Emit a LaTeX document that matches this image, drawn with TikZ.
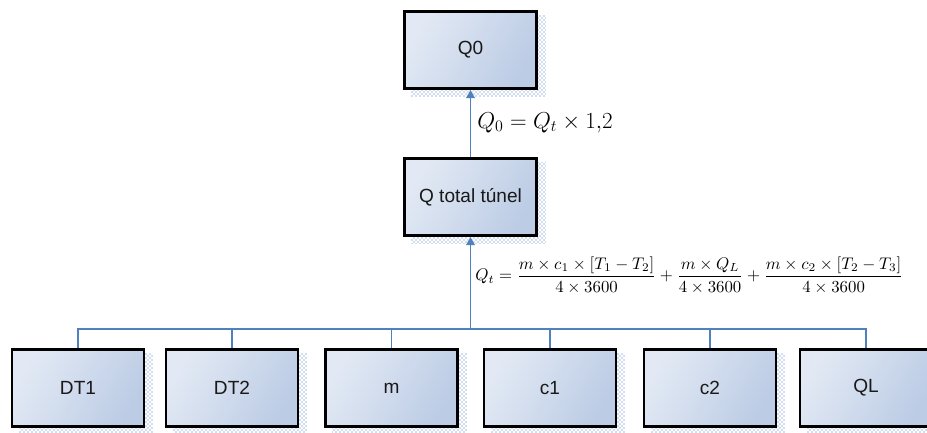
\documentclass[tikz,border=0pt]{standalone}
\usepackage{amsmath}
\usepackage{fontspec}
\setmainfont{Liberation Sans}
\usetikzlibrary{arrows.meta,patterns,calc,backgrounds}
\definecolor{boxlight}{RGB}{226,233,244}
\definecolor{boxdark}{RGB}{188,204,229}
\definecolor{connblue}{RGB}{79,129,189}
\definecolor{shadowblue}{RGB}{60,110,190}
\tikzset{
  boxnode/.style={draw=black, line width=2.2pt, minimum width=99pt, minimum height=58pt,
    inner sep=0pt, left color=boxlight, right color=boxdark, shading angle=60,
    font=\fontsize{14.3}{16}\selectfont, text=black!90},
  conn/.style={draw=connblue, line width=1.2pt},
  arr/.style={conn, -{Triangle[length=6pt,width=6.5pt]}},
  shadowpat/.style={pattern=crosshatch dots, pattern color=shadowblue}
}
\begin{document}
\begin{tikzpicture}[x=0.75pt,y=-0.75pt]
\useasboundingbox (0,0) rectangle (927,432);
\clip (0,0) rectangle (927,432);
\node[boxnode] (Q0) at (470.5,50) {Q0};
\node[boxnode] (Qt) at (470.5,197) {Q total túnel};
\node[boxnode] (DT1) at (78,388) {DT1};
\node[boxnode] (DT2) at (232,388) {DT2};
\node[boxnode] (m) at (391.5,388) {m};
\node[boxnode] (c1) at (550,388) {c1};
\node[boxnode] (c2) at (710,388) {c2};
\node[boxnode] (QL) at (866,388) {QL};
\begin{scope}[on background layer]
\foreach \n in {Q0,Qt,DT1,DT2,m,c1,c2,QL}{
  \fill[shadowpat] ($(\n.north west)+(8,6)$) rectangle ($(\n.south east)+(8,6)$);
}
\end{scope}
\coordinate (bus) at (Qt.center |- 0,329);
\foreach \n in {DT1,DT2,m,c1,c2,QL}{
  \draw[conn] (\n.north) |- (bus);
}
\draw[arr] (bus) -- (Qt.south);
\draw[arr] (Qt.north) -- (Q0.south);
\node[anchor=base west, inner sep=0pt, font=\fontsize{17.5}{20}\selectfont] (f0) at (477,128)
  {$Q_0 = Q_t \times 1{,}2$};
\node[anchor=west, inner sep=0pt] (ft) at (475,275)
  {\resizebox{321pt}{!}{$Q_t = \dfrac{m \times c_1 \times [T_1 - T_2]}{4 \times 3600} + \dfrac{m \times Q_L}{4 \times 3600} + \dfrac{m \times c_2 \times [T_2 - T_3]}{4 \times 3600}$}};
\end{tikzpicture}
\end{document}
